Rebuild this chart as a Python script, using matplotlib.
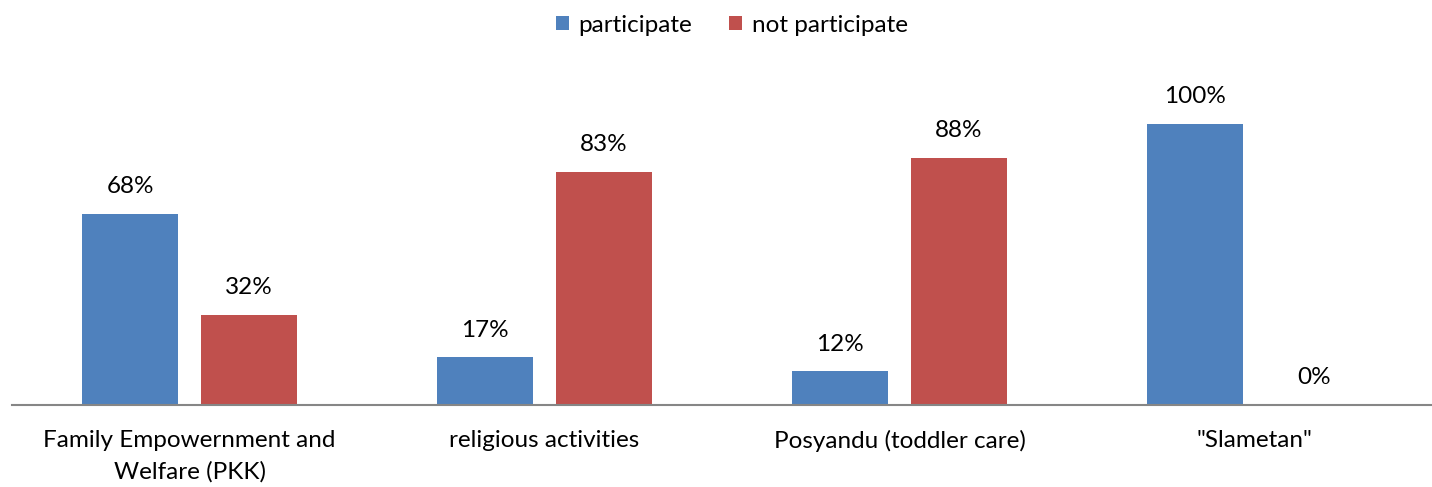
import matplotlib.pyplot as plt
import numpy as np

categories = ["Family Empowernment and\nWelfare (PKK)", "religious activities",
              "Posyandu (toddler care)", "\"Slametan\""]
participate = [68, 17, 12, 100]
not_participate = [32, 83, 88, 0]

plt.rcParams["font.family"] = ["Lato", "DejaVu Sans"]

fig = plt.figure(figsize=(14.32, 4.87), dpi=100)
ax = fig.add_axes([12 / 1432, 82 / 487, 1 - 12 / 1432, 281 / 487])

x = np.arange(len(categories))
w = 0.268
off = 0.1676
b1 = ax.bar(x - off, participate, w, color="#4F81BD", label="participate")
b2 = ax.bar(x + off, not_participate, w, color="#C0504D", label="not participate")

for bars, vals in [(b1, participate), (b2, not_participate)]:
    for rect, v in zip(bars, vals):
        ax.annotate(f"{v}%", (rect.get_x() + rect.get_width() / 2, v),
                    xytext=(0, 12), textcoords="offset points",
                    ha="center", va="bottom", fontsize=17.5, color="#000000",
                    annotation_clip=False)

ax.set_xlim(-0.5, len(categories) - 0.5)
ax.set_ylim(0, 100)
ax.set_xticks(x)
ax.set_xticklabels(categories, fontsize=17.5, linespacing=1.55)
ax.tick_params(axis="x", length=0, pad=18)
ax.set_yticks([])
for s in ["top", "right", "left"]:
    ax.spines[s].set_visible(False)
ax.spines["bottom"].set_color("#868686")
ax.spines["bottom"].set_linewidth(1.5)

fig.legend(loc="upper center", bbox_to_anchor=(0.511, 1.015), ncol=2, frameon=False,
           fontsize=17.5, handlelength=0.55, handleheight=0.55, columnspacing=1.5,
           handletextpad=0.4)

plt.savefig("out.png", dpi=100)
